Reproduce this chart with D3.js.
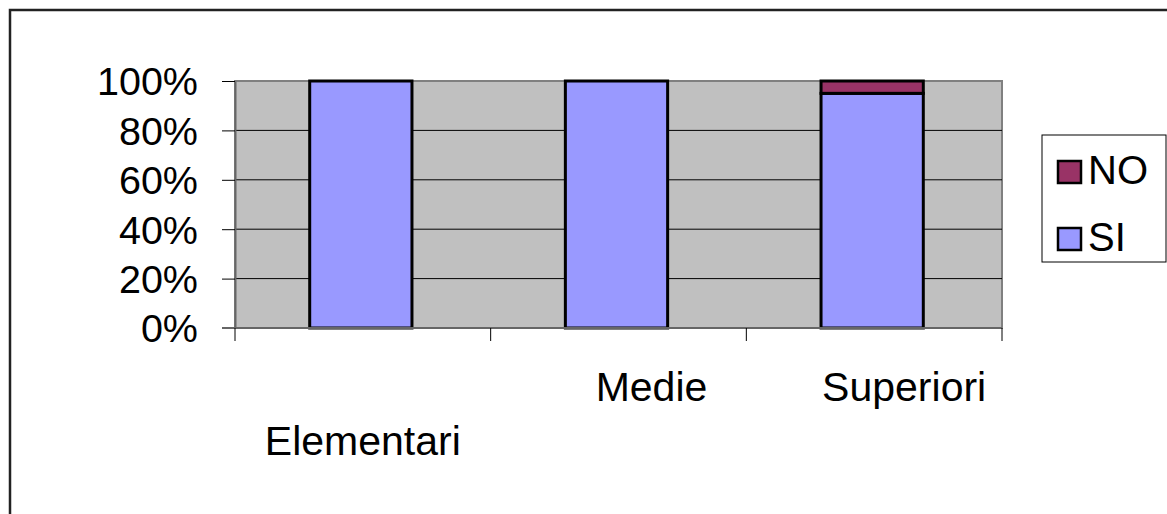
<!DOCTYPE html>
<html>
<head>
<meta charset="utf-8">
<script src="https://cdn.jsdelivr.net/npm/d3@7"></script>
<style>
  body { margin: 0; background: #fff; }
  svg { display: block; font-family: "Liberation Sans", Arial, sans-serif; }
</style>
</head>
<body>
<svg width="1167" height="514"></svg>
<script>
const categories = ["Elementari", "Medie", "Superiori"];
const siValues = [100, 100, 95];
const noValues = [0, 0, 5];
const seriesNames = ["SI", "NO"];
const seriesColors = ["#9999FF", "#993366"];
const yTicks = [0, 20, 40, 60, 80, 100];

const svg = d3.select("svg");
const width = 1167, height = 514;
const plot = {left: 235, right: 1002, top: 81, bottom: 328};

// outer chart frame (runs past right/bottom edges like the source)
svg.append("rect")
    .attr("x", 10).attr("y", 10)
    .attr("width", width).attr("height", height)
    .attr("fill", "#fff")
    .attr("stroke", "#222").attr("stroke-width", 2.5);

const x = d3.scaleBand()
    .domain(categories)
    .range([plot.left, plot.right])
    .paddingInner(0.6)
    .paddingOuter(0.3);

const y = d3.scaleLinear().domain([0, 100]).range([plot.bottom, plot.top]);

const rows = categories.map((c, i) => ({cat: c, SI: siValues[i], NO: noValues[i]}));
const stacked = d3.stack().keys(seriesNames)(rows);

// plot area
svg.append("rect")
    .attr("x", plot.left).attr("y", plot.top)
    .attr("width", plot.right - plot.left).attr("height", plot.bottom - plot.top)
    .attr("fill", "#C0C0C0")
    .attr("stroke", "#808080").attr("stroke-width", 2);

// gridlines
svg.append("g")
    .selectAll("line")
    .data(yTicks.filter(d => d > 0 && d < 100))
    .enter().append("line")
    .attr("x1", plot.left).attr("x2", plot.right)
    .attr("y1", d => y(d)).attr("y2", d => y(d))
    .attr("stroke", "#000").attr("stroke-width", 1);

// bars
svg.append("g")
    .selectAll("g")
    .data(stacked)
    .enter().append("g")
    .attr("fill", (d, i) => seriesColors[i])
    .selectAll("rect")
    .data(d => d.filter(s => s[1] - s[0] > 0))
    .enter().append("rect")
    .attr("x", d => x(d.data.cat) - 2)
    .attr("width", x.bandwidth())
    .attr("y", d => y(d[1]))
    .attr("height", d => y(d[0]) - y(d[1]))
    .attr("stroke", "#000").attr("stroke-width", 3);

// y axis
const yAxis = svg.append("g")
    .attr("transform", `translate(${plot.left},0)`)
    .call(d3.axisLeft(y).tickValues(yTicks).tickFormat(d => d + "%").tickSize(13).tickSizeOuter(0));
yAxis.select(".domain").attr("stroke", "#666").attr("stroke-width", 2);
yAxis.selectAll(".tick line").attr("stroke", "#000");
yAxis.selectAll(".tick text")
    .attr("x", -37)
    .attr("dy", "0.35em")
    .attr("fill", "#000")
    .style("font-size", "39.5px")
    .style("font-family", "'Liberation Sans', Arial, sans-serif");

// x axis line and category boundary ticks
const step = x.step();
const boundaries = d3.range(categories.length + 1).map(i => plot.left + i * step);
svg.append("line")
    .attr("x1", plot.left - 13).attr("x2", plot.right)
    .attr("y1", plot.bottom).attr("y2", plot.bottom)
    .attr("stroke", "#666").attr("stroke-width", 2);
svg.append("g")
    .selectAll("line")
    .data(boundaries)
    .enter().append("line")
    .attr("x1", d => d).attr("x2", d => d)
    .attr("y1", plot.bottom).attr("y2", plot.bottom + 13)
    .attr("stroke", "#000");

// staggered category labels
const labelRow = [1, 0, 0];
const labelShift = [0, 33, 30];
svg.append("g")
    .selectAll("text")
    .data(categories)
    .enter().append("text")
    .attr("x", (d, i) => x(d) + x.bandwidth() / 2 + labelShift[i])
    .attr("y", (d, i) => labelRow[i] ? 455 : 401)
    .attr("text-anchor", "middle")
    .style("font-size", "41px")
    .text(d => d);

// legend
const legend = svg.append("g");
legend.append("rect")
    .attr("x", 1042).attr("y", 135)
    .attr("width", 124).attr("height", 127)
    .attr("fill", "#fff").attr("stroke", "#000").attr("stroke-width", 1);
const legendItems = [
    {name: "NO", color: seriesColors[1], y: 161},
    {name: "SI", color: seriesColors[0], y: 228}
];
const item = legend.selectAll("g.item")
    .data(legendItems)
    .enter().append("g").attr("class", "item");
item.append("rect")
    .attr("x", 1058).attr("y", d => d.y)
    .attr("width", 23).attr("height", 22)
    .attr("fill", d => d.color)
    .attr("stroke", "#000").attr("stroke-width", 2.5);
item.append("text")
    .attr("x", 1088).attr("y", d => d.y + 23)
    .style("font-size", "40px")
    .text(d => d.name);
</script>
</body>
</html>
